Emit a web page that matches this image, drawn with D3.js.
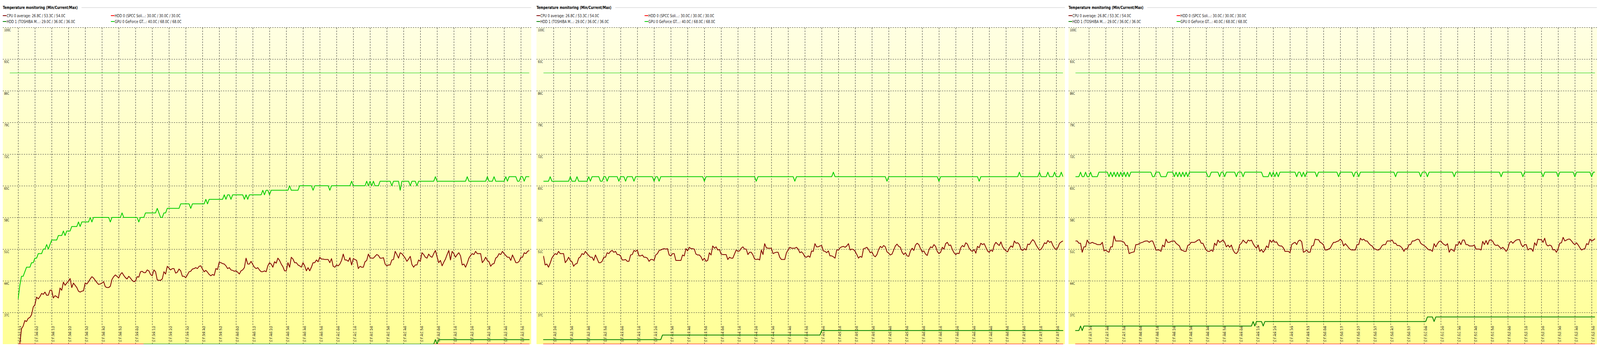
<!DOCTYPE html>
<html>
<head>
<meta charset="utf-8">
<script src="https://cdn.jsdelivr.net/npm/d3@7"></script>
<style>
  html, body { margin: 0; padding: 0; width: 100%; height: 100%; background: #fff; overflow: hidden; }
  svg { display: block; width: 100vw; height: 100vh; font-family: "DejaVu Sans", Verdana, sans-serif; }
  line, path { vector-effect: non-scaling-stroke; }
</style>
</head>
<body>
<script>
// one reading per second; the three screenshots are windows on the same log
var cpu0 = [
  26.8, 30.1, 33.4, 34.0, 35.2, 35.0, 35.7, 35.9, 36.5, 38.2,
  38.7, 40.4, 40.0, 40.5, 41.2, 41.0, 41.5, 40.8, 40.8, 41.9,
  41.9, 40.2, 40.7, 40.5, 40.2, 42.4, 41.9, 43.7, 43.0, 43.5,
  43.9, 44.5, 42.5, 43.5, 43.0, 42.5, 41.7, 41.5, 41.7, 41.8,
  43.5, 43.3, 43.8, 44.4, 44.9, 44.6, 44.1, 43.6, 43.2, 43.3,
  43.5, 43.8, 42.7, 42.5, 42.5, 42.8, 44.3, 44.9, 45.3, 45.0,
  44.6, 45.4, 45.8, 45.2, 44.7, 44.4, 45.0, 44.6, 44.1, 43.8,
  43.9, 44.9, 44.8, 46.0, 46.1, 45.8, 45.8, 46.4, 46.2, 45.4,
  45.1, 46.4, 46.0, 44.2, 44.1, 44.1, 44.4, 46.0, 45.5, 47.2,
  46.8, 46.4, 46.7, 46.7, 45.7, 45.9, 46.6, 46.2, 45.0, 45.0,
  44.7, 45.3, 46.0, 46.1, 46.6, 46.7, 46.9, 46.7, 47.2, 47.3,
  46.6, 46.0, 46.3, 45.9, 45.4, 45.1, 45.4, 45.2, 46.7, 46.5,
  48.1, 48.0, 47.8, 47.7, 47.3, 46.7, 46.9, 46.4, 46.3, 46.1,
  46.2, 45.9, 45.5, 46.2, 46.4, 46.9, 49.0, 47.7, 47.7, 48.3,
  47.6, 47.0, 46.7, 46.9, 46.4, 46.0, 46.0, 46.2, 46.0, 47.3,
  48.0, 47.7, 47.0, 48.2, 47.9, 49.0, 48.5, 47.7, 47.1, 46.2,
  46.2, 48.0, 47.0, 49.2, 48.8, 48.0, 48.0, 47.5, 47.3, 47.0,
  48.0, 47.3, 46.2, 46.9, 46.2, 47.0, 48.0, 48.0, 48.6, 48.2,
  49.2, 48.8, 48.8, 48.7, 48.7, 48.7, 48.0, 48.9, 47.2, 47.0,
  47.5, 47.3, 47.7, 48.5, 49.9, 48.6, 48.6, 48.3, 49.1, 47.5,
  48.9, 48.7, 48.5, 46.7, 47.2, 47.0, 47.0, 48.2, 48.5, 49.9,
  49.1, 49.0, 49.0, 49.4, 49.8, 49.6, 49.0, 49.0, 49.1, 47.7,
  47.3, 47.5, 47.5, 48.6, 48.7, 50.5, 49.8, 49.0, 50.2, 50.0,
  49.5, 49.0, 48.3, 48.8, 49.4, 47.6, 47.0, 47.5, 47.5, 48.6,
  48.3, 50.2, 49.8, 49.2, 49.0, 49.9, 49.4, 49.2, 50.0, 50.7,
  49.3, 48.0, 48.5, 47.3, 48.1, 48.8, 49.8, 50.7, 48.6, 50.5,
  50.0, 49.2, 49.8, 50.2, 49.5, 47.5, 47.7, 47.0, 47.9, 49.0,
  49.6, 50.0, 49.8, 50.5, 50.0, 50.0, 50.0, 48.0, 48.5, 49.2,
  48.5, 48.2, 47.2, 47.7, 47.8, 49.0, 49.3, 50.0, 49.8, 50.5,
  50.0, 49.6, 49.2, 49.2, 48.5, 49.7, 48.9, 48.0, 48.0, 48.3,
  49.2, 49.2, 50.2, 50.0, 50.5, 50.7, 50.3, 50.5, 49.8, 49.8,
  49.5, 48.6, 48.6, 48.7, 48.3, 48.3, 49.7, 49.8, 50.7, 50.5,
  50.8, 49.5, 49.5, 49.7, 49.2, 49.2, 49.0, 48.3, 48.7, 48.7,
  48.5, 49.7, 50.0, 50.7, 50.8, 51.0, 51.1, 51.0, 51.1, 49.7,
  49.5, 50.0, 50.0, 48.5, 48.5, 48.5, 48.5, 49.7, 49.5, 51.1,
  50.6, 51.4, 51.1, 51.1, 51.0, 49.9, 49.7, 49.7, 49.3, 48.5,
  49.0, 48.3, 48.5, 50.2, 49.7, 51.7, 51.2, 51.5, 50.8, 50.9,
  49.9, 49.8, 49.8, 49.8, 48.7, 49.2, 49.0, 49.0, 49.9, 50.8,
  50.5, 50.6, 51.2, 51.5, 51.0, 51.0, 49.8, 50.3, 50.3, 49.7,
  48.8, 48.7, 48.8, 48.6, 50.8, 49.8, 52.2, 51.3, 51.2, 51.2,
  51.2, 50.0, 50.2, 50.3, 50.3, 49.2, 48.7, 48.7, 48.7, 50.2,
  50.8, 51.4, 51.2, 51.2, 51.2, 51.4, 51.0, 50.2, 50.4, 50.0,
  49.3, 49.2, 49.5, 49.2, 50.6, 50.5, 52.2, 51.5, 51.5, 51.7,
  51.8, 50.6, 50.5, 50.2, 50.6, 49.5, 49.5, 49.3, 49.0, 50.8,
  50.8, 51.3, 51.5, 51.6, 51.4, 51.7, 52.2, 50.8, 51.0, 50.9,
  50.5, 49.8, 49.0, 49.4, 49.2, 51.1, 51.2, 51.4, 50.9, 50.2,
  50.4, 49.6, 49.3, 49.8, 50.9, 51.6, 51.3, 51.8, 51.5, 50.4,
  50.1, 49.7, 49.9, 50.8, 51.7, 52.1, 51.6, 51.4, 50.3, 49.8,
  50.2, 49.5, 49.4, 50.6, 51.2, 50.7, 51.9, 52.3, 52.0, 51.1,
  50.4, 50.6, 49.9, 49.6, 50.8, 51.5, 51.3, 52.0, 51.6, 50.5,
  50.0, 50.3, 51.4, 51.0, 52.2, 52.5, 51.8, 51.9, 50.9, 50.2,
  49.8, 50.1, 50.0, 51.3, 51.8, 51.5, 52.4, 52.1, 51.2, 50.7,
  50.5, 50.9, 50.1, 51.6, 51.3, 52.3, 52.0, 52.2, 51.4, 50.6,
  50.3, 50.8, 50.5, 51.9, 52.5, 52.1, 51.8, 52.6, 51.5, 51.0,
  50.6, 50.4, 51.2, 51.7, 51.4, 52.8, 52.3, 52.4, 52.0, 50.9,
  50.7, 51.1, 50.8, 52.1, 52.0, 52.6, 53.1, 52.7, 51.9, 51.3,
  50.8, 51.0, 51.6, 52.4, 52.2, 52.9, 52.5, 52.7, 51.8, 51.2,
  50.9, 51.4, 52.3, 52.6, 52.8, 52.8, 52.8, 52.3, 52.3, 50.3,
  51.5, 51.5, 53.0, 52.3, 52.3, 52.5, 52.3, 52.2, 52.0, 52.0,
  52.0, 52.5, 50.6, 50.8, 50.5, 50.3, 51.5, 51.5, 53.9, 52.8,
  52.8, 52.8, 52.8, 52.7, 52.5, 51.8, 51.8, 50.0, 50.2, 50.3,
  50.4, 52.0, 52.0, 52.2, 52.4, 52.5, 52.7, 52.8, 52.8, 52.5,
  52.8, 52.8, 51.9, 50.8, 50.8, 50.8, 50.5, 51.9, 51.5, 53.2,
  52.5, 52.5, 52.7, 52.8, 52.8, 52.3, 52.0, 51.7, 50.8, 50.7,
  50.5, 50.5, 51.8, 52.0, 52.5, 52.5, 52.5, 52.7, 53.0, 53.1,
  52.3, 52.3, 51.5, 50.8, 50.5, 50.5, 50.8, 50.5, 52.3, 51.8,
  53.0, 52.5, 52.7, 53.0, 52.5, 51.5, 51.9, 51.4, 51.9, 50.8,
  50.2, 50.0, 50.5, 52.0, 52.3, 53.0, 52.6, 52.3, 53.0, 52.8,
  53.0, 52.2, 51.6, 51.2, 51.9, 50.5, 50.9, 50.3, 50.8, 51.7,
  51.3, 53.0, 52.5, 53.0, 52.5, 52.6, 51.9, 51.7, 51.7, 51.3,
  50.5, 50.5, 50.5, 50.2, 52.0, 52.3, 52.5, 52.0, 52.8, 53.0,
  52.6, 50.3, 50.5, 50.8, 50.3, 50.3, 51.7, 51.8, 53.2, 53.1,
  53.1, 52.5, 52.3, 51.9, 50.8, 50.8, 51.0, 51.2, 51.9, 52.5,
  52.5, 52.7, 52.8, 53.2, 52.8, 51.7, 52.2, 51.8, 51.3, 50.9,
  50.8, 50.8, 50.8, 52.0, 52.0, 53.4, 53.0, 53.2, 52.8, 52.8,
  52.3, 51.9, 51.7, 51.1, 51.0, 50.8, 50.8, 51.2, 51.8, 52.0,
  52.0, 52.8, 52.8, 52.8, 53.0, 52.3, 52.3, 51.8, 51.8, 51.6,
  51.2, 50.5, 51.1, 51.0, 52.0, 52.0, 52.8, 52.8, 53.0, 53.2,
  53.1, 52.3, 52.0, 51.8, 51.5, 51.1, 50.8, 50.8, 50.5, 52.2,
  51.5, 52.2, 52.7, 52.8, 52.3, 52.0, 51.8, 52.2, 50.3, 51.0,
  50.8, 50.5, 52.0, 51.8, 52.7, 52.0, 53.0, 53.0, 52.0, 52.0,
  51.7, 51.7, 51.7, 51.9, 51.0, 51.0, 51.0, 50.8, 52.7, 52.0,
  52.9, 52.0, 53.0, 53.0, 52.7, 52.0, 51.8, 51.9, 51.5, 51.1,
  51.4, 51.0, 50.5, 51.1, 52.4, 52.7, 52.3, 52.7, 53.0, 53.1,
  53.1, 52.0, 51.5, 52.0, 52.0, 50.8, 51.1, 51.1, 50.5, 52.4,
  51.8, 53.2, 53.1, 53.1, 52.5, 53.4, 52.0, 51.7, 51.9, 51.7,
  50.8, 50.9, 50.3, 51.1, 52.3, 52.4, 53.6, 52.8, 53.0, 53.2,
  53.2, 52.8, 52.3, 52.0, 52.4, 51.9, 51.3, 50.8, 51.0, 51.1,
  52.2, 52.0, 53.2, 52.8, 53.0, 53.3
];

var gpu0 = [
  40, 43, 45, 45, 46, 47, 47, 47, 48, 48,
  49, 49, 50, 50, 50, 51, 51, 52, 51, 52,
  53, 53, 53, 53, 54, 54, 54, 55, 54, 55,
  55, 55, 56, 56, 56, 56, 57, 56, 57, 57,
  57, 57, 57, 58, 57, 58, 58, 58, 58, 58,
  58, 58, 58, 58, 58, 57, 58, 58, 58, 58,
  58, 58, 59, 58, 58, 58, 58, 58, 58, 58,
  58, 58, 57, 58, 58, 58, 59, 59, 59, 59,
  59, 59, 59, 60, 59, 58, 58, 59, 59, 60,
  60, 60, 60, 60, 60, 60, 60, 61, 61, 61,
  61, 61, 61, 60, 61, 61, 61, 61, 61, 61,
  61, 61, 62, 61, 62, 62, 62, 62, 62, 62,
  62, 62, 62, 63, 62, 63, 63, 62, 63, 63,
  63, 63, 63, 63, 63, 62, 63, 62, 63, 63,
  63, 63, 63, 63, 63, 63, 64, 63, 64, 64,
  63, 64, 64, 64, 64, 64, 64, 64, 64, 64,
  64, 64, 65, 64, 64, 64, 64, 64, 65, 65,
  65, 65, 65, 65, 65, 65, 64, 65, 65, 65,
  65, 65, 65, 65, 65, 65, 64, 65, 65, 65,
  65, 65, 65, 65, 65, 65, 65, 65, 65, 66,
  65, 65, 65, 65, 65, 65, 65, 65, 66, 65,
  66, 65, 66, 65, 65, 65, 66, 66, 66, 66,
  66, 66, 66, 65, 66, 66, 66, 66, 64, 66,
  66, 66, 66, 66, 65, 66, 66, 66, 65, 66,
  66, 66, 66, 66, 66, 66, 66, 66, 66, 67,
  66, 66, 66, 66, 66, 66, 66, 66, 66, 66,
  66, 66, 66, 66, 66, 66, 66, 66, 67, 66,
  66, 66, 66, 66, 66, 66, 66, 66, 66, 66,
  67, 66, 66, 66, 67, 66, 66, 66, 66, 66,
  66, 67, 66, 67, 67, 67, 67, 67, 66, 66,
  67, 67, 66, 67, 67, 67, 67, 67, 67, 66,
  67, 67, 67, 66, 67, 67, 67, 67, 66, 67,
  67, 67, 67, 67, 67, 67, 67, 67, 67, 67,
  66, 67, 67, 66, 67, 67, 67, 67, 67, 67,
  67, 67, 67, 67, 67, 67, 67, 67, 67, 67,
  67, 67, 67, 67, 67, 67, 67, 67, 67, 67,
  66, 67, 67, 67, 67, 67, 67, 67, 67, 67,
  67, 67, 67, 67, 67, 67, 67, 67, 67, 67,
  67, 67, 67, 67, 67, 67, 67, 67, 67, 67,
  67, 66, 67, 67, 67, 67, 67, 67, 67, 67,
  67, 67, 67, 67, 67, 67, 67, 67, 67, 67,
  67, 67, 67, 67, 66, 67, 67, 67, 67, 67,
  67, 67, 67, 67, 67, 67, 67, 67, 67, 67,
  67, 67, 67, 67, 67, 67, 67, 68, 67, 67,
  67, 67, 67, 67, 67, 67, 67, 67, 67, 67,
  67, 67, 67, 67, 67, 67, 67, 67, 67, 67,
  67, 67, 67, 67, 67, 67, 67, 67, 67, 66,
  67, 67, 67, 67, 67, 67, 67, 67, 67, 67,
  67, 67, 67, 67, 67, 67, 67, 67, 67, 67,
  67, 67, 67, 67, 67, 67, 67, 67, 67, 67,
  66, 67, 67, 67, 67, 67, 67, 67, 67, 67,
  67, 67, 67, 67, 67, 67, 67, 67, 67, 67,
  67, 67, 67, 67, 66, 67, 67, 67, 67, 67,
  67, 67, 67, 67, 67, 67, 67, 67, 67, 67,
  67, 67, 67, 67, 67, 67, 67, 67, 68, 67,
  67, 67, 67, 67, 67, 67, 67, 67, 67, 67,
  68, 67, 67, 67, 67, 68, 67, 67, 67, 68,
  67, 67, 67, 68, 67, 67, 67, 67, 68, 67,
  67, 68, 67, 67, 68, 67, 67, 67, 67, 68,
  68, 68, 68, 68, 68, 67, 68, 67, 68, 67,
  68, 67, 68, 67, 68, 67, 68, 67, 68, 68,
  68, 68, 68, 68, 68, 68, 68, 68, 68, 68,
  68, 67, 67, 68, 68, 68, 67, 67, 67, 67,
  68, 68, 68, 68, 67, 68, 67, 68, 67, 68,
  67, 68, 67, 68, 68, 68, 68, 68, 68, 68,
  68, 68, 68, 68, 67, 67, 68, 68, 68, 68,
  68, 67, 68, 68, 67, 68, 68, 68, 68, 68,
  68, 67, 68, 68, 68, 67, 68, 68, 68, 68,
  68, 68, 68, 68, 68, 68, 68, 67, 67, 67,
  67, 68, 67, 68, 67, 68, 67, 68, 68, 68,
  68, 68, 68, 68, 68, 68, 68, 67, 68, 68,
  67, 68, 67, 68, 68, 68, 68, 68, 68, 67,
  68, 68, 68, 68, 68, 68, 68, 68, 68, 68,
  68, 68, 67, 68, 68, 68, 68, 68, 68, 68,
  68, 67, 68, 68, 67, 68, 68, 68, 68, 68,
  68, 68, 68, 68, 68, 68, 68, 68, 68, 68,
  68, 68, 68, 68, 68, 68, 67, 68, 68, 68,
  68, 68, 68, 68, 68, 68, 68, 68, 68, 68,
  68, 67, 68, 68, 68, 67, 68, 68, 68, 68,
  68, 68, 68, 68, 68, 68, 68, 68, 68, 68,
  68, 67, 68, 68, 68, 68, 68, 68, 68, 68,
  68, 68, 68, 68, 68, 68, 68, 68, 68, 68,
  68, 68, 68, 68, 68, 68, 68, 68, 68, 67,
  68, 68, 68, 68, 68, 68, 68, 68, 68, 68,
  68, 68, 67, 68, 68, 68, 68, 68, 68, 68,
  68, 68, 68, 68, 67, 68, 68, 68, 68, 68,
  68, 68, 68, 67, 68, 68, 68, 68, 68, 68,
  68, 68, 68, 67, 68, 68, 68, 68, 68, 68,
  68, 68, 68, 67, 68, 68
];

// [sample, value] corners of the step-shaped drive traces
var hdd1Steps = [
  [0, 29], [74, 29], [75, 30], [248, 30], [249, 31], [250, 30], [251, 31],
  [334, 31], [335, 32], [429, 32], [430, 33], [577, 33], [578, 34], [579, 33],
  [580, 34], [680, 34], [681, 35], [682, 34], [683, 35], [686, 35], [687, 34],
  [688, 35], [784, 35], [785, 36], [788, 36], [789, 35], [790, 36], [885, 36]
];
var hdd0Steps = [[0, 30], [885, 30]];

var gpuAlarm = 90;

var yTicks = [100, 93, 86, 79, 72, 65, 58, 51, 44, 37];

var ticks1 = ["17:37:53", "17:38:02", "17:38:12", "17:38:22", "17:38:32", "17:38:42", "17:38:52",
  "17:39:02", "17:39:12", "17:39:22", "17:39:32", "17:39:42", "17:39:52", "17:40:02", "17:40:12",
  "17:40:22", "17:40:36", "17:40:46", "17:40:56", "17:41:06", "17:41:16", "17:41:26", "17:41:36",
  "17:41:46", "17:41:56", "17:42:06", "17:42:16", "17:42:26", "17:42:36", "17:42:46", "17:42:56"];
var ticks2 = ["17:42:26", "17:42:36", "17:42:46", "17:42:56", "17:43:06", "17:43:16", "17:43:26",
  "17:43:36", "17:43:46", "17:43:56", "17:44:06", "17:44:16", "17:44:26", "17:44:36", "17:44:46",
  "17:44:56", "17:45:06", "17:45:16", "17:45:26", "17:45:36", "17:45:46", "17:45:56", "17:46:06",
  "17:46:16", "17:46:26", "17:46:36", "17:46:46", "17:46:56", "17:47:06", "17:47:16", "17:47:26"];
var ticks3 = ["17:47:39", "17:47:48", "17:47:58", "17:48:08", "17:48:18", "17:48:28", "17:48:38",
  "17:48:48", "17:48:58", "17:49:08", "17:49:19", "17:49:29", "17:49:39", "17:49:53", "17:50:08",
  "17:50:17", "17:50:27", "17:50:37", "17:50:47", "17:50:57", "17:51:08", "17:51:20", "17:51:30",
  "17:51:40", "17:51:50", "17:52:00", "17:52:10", "17:52:20", "17:52:30", "17:52:40", "17:52:50"];

var legendNames = ["CPU 0 average: 26.8C / 53.3C / 54.0C", "HDD 0 (SPCC Soli...: 30.0C / 30.0C / 30.0C",
  "HDD 1 (TOSHIBA M...: 29.0C / 36.0C / 36.0C", "GPU 0 GeForce GT...: 40.0C / 68.0C / 68.0C"];
var legendColors = ["#800000", "#ff0000", "#008000", "#00cc00"];

// screenshot windows: last sample shown, first labelled sample
var panels = [
  { ox: 0, last: 305, tickFrom: 0, ticks: ticks1 },
  { ox: 1911, last: 574, tickFrom: 270, ticks: ticks2 },
  { ox: 3816, last: 885, tickFrom: 583, ticks: ticks3 }
];

var W = 5729, H = 895;
var plotL = 10, plotR = 1902, plotT = 70, plotB = 880;
var bufLen = 310;

// drawn in 5729x895 units and stretched onto whatever the window is
var svg = d3.select("body").append("svg")
  .attr("viewBox", "0 0 " + W + " " + H)
  .attr("preserveAspectRatio", "none");
var defs = svg.append("defs");
var grad = defs.append("linearGradient").attr("id", "bg")
  .attr("x1", 0).attr("y1", 0).attr("x2", 0).attr("y2", 1);
grad.append("stop").attr("offset", "0%").attr("stop-color", "#ffffe2");
grad.append("stop").attr("offset", "100%").attr("stop-color", "#ffff96");

var y = d3.scaleLinear().domain([30, 100]).range([plotB, plotT]);

panels.forEach(function (p, n) {
  var first = Math.max(0, p.last - bufLen);
  var x = d3.scaleLinear().domain([p.last - bufLen, p.last]).range([35, 35 + 6 * bufLen]);
  var g = svg.append("g").attr("transform", "translate(" + p.ox + ",0)");

  // title + rule
  g.append("text").attr("x", 10).attr("y", 23)
    .attr("font-size", "11px").attr("font-weight", "bold").attr("fill", "#000")
    .text("Temperature monitoring  (Min/Current/Max)");
  g.append("line").attr("x1", 292).attr("x2", Math.min(plotR, W - p.ox)).attr("y1", 19.5).attr("y2", 19.5)
    .attr("stroke", "#c8c8c8");

  // legend
  var lg = g.selectAll("g.leg").data(legendNames).enter().append("g").attr("class", "leg")
    .attr("transform", function (d, i) { return "translate(" + (i % 2 ? 397 : 10) + "," + (i < 2 ? 40 : 55) + ")"; });
  lg.append("line").attr("x1", 0).attr("x2", 13).attr("y1", 0).attr("y2", 0)
    .attr("stroke-width", 2).attr("stroke", function (d, i) { return legendColors[i]; });
  lg.append("text").attr("x", 14).attr("y", 4).attr("font-size", "11.2px").attr("fill", "#222")
    .text(function (d) { return d; });

  // plot background
  g.append("rect").attr("x", plotL).attr("y", plotT - 0.5)
    .attr("width", plotR - plotL).attr("height", plotB - plotT + 0.5).attr("fill", "url(#bg)");

  // horizontal grid + labels
  var ya = g.append("g").attr("transform", "translate(" + plotL + ",0)")
    .call(d3.axisLeft(y).tickValues(yTicks).tickSize(-(plotR - plotL))
      .tickFormat(function (d) { return d + "C"; }));
  ya.select(".domain").remove();
  ya.selectAll(".tick line").attr("stroke", "#333").attr("stroke-dasharray", "3,3");
  ya.selectAll(".tick text").attr("x", 5).attr("dy", null).attr("y", 10)
    .attr("text-anchor", "start").attr("fill", "#111")
    .style("font-family", "'DejaVu Sans', sans-serif").style("font-size", "9px");

  // vertical grid + time labels
  var tickIdx = p.ticks.map(function (t, i) { return p.tickFrom + 10 * i; });
  var xa = g.append("g").attr("transform", "translate(0," + plotB + ")")
    .call(d3.axisBottom(x).tickValues(tickIdx).tickSize(-(plotB - plotT))
      .tickFormat(function (d, i) { return p.ticks[i]; }));
  xa.select(".domain").remove();
  xa.selectAll(".tick line").attr("stroke", "#333").attr("stroke-dasharray", "4,3");
  xa.selectAll(".tick text").attr("x", 0).attr("y", 0).attr("dy", null)
    .attr("transform", "translate(9.5,-5) rotate(-90)").attr("text-anchor", "start")
    .attr("fill", "#111")
    .style("font-family", "'DejaVu Sans', sans-serif").style("font-size", "9.3px");

  // clip rectangles live in the panel's own (translated) coordinates
  var cid = "clip" + n;
  defs.append("clipPath").attr("id", cid).append("rect")
    .attr("x", x(first) - 1).attr("y", plotT)
    .attr("width", x(p.last) - x(first) + 2).attr("height", plotB - plotT);
  var plotClip = "pclip" + n;
  defs.append("clipPath").attr("id", plotClip).append("rect")
    .attr("x", plotL).attr("y", plotT).attr("width", plotR - plotL).attr("height", plotB - plotT);

  // GPU alarm level across the whole buffer
  g.append("line").attr("clip-path", "url(#" + plotClip + ")")
    .attr("x1", x(p.last - bufLen)).attr("x2", x(p.last))
    .attr("y1", Math.round(y(gpuAlarm)) + 0.5).attr("y2", Math.round(y(gpuAlarm)) + 0.5)
    .attr("stroke", "#00cc00").attr("stroke-width", 1);

  var series = g.append("g").attr("clip-path", "url(#" + cid + ")");
  var idxLine = d3.line().x(function (d) { return x(d[0]); }).y(function (d) { return y(d[1]); });
  function win(arr) {
    var out = [];
    for (var i = first; i <= p.last; i++) out.push([i, arr[i]]);
    return out;
  }
  function draw(pts, color, w) {
    series.append("path").attr("d", idxLine(pts)).attr("fill", "none")
      .attr("stroke", color).attr("stroke-width", w).attr("stroke-linejoin", "round");
  }
  draw(win(cpu0), legendColors[0], 2);
  draw(hdd0Steps, legendColors[1], 2);
  draw(hdd1Steps, legendColors[2], 2);
  draw(win(gpu0), legendColors[3], 2);
});
</script>
</body>
</html>
